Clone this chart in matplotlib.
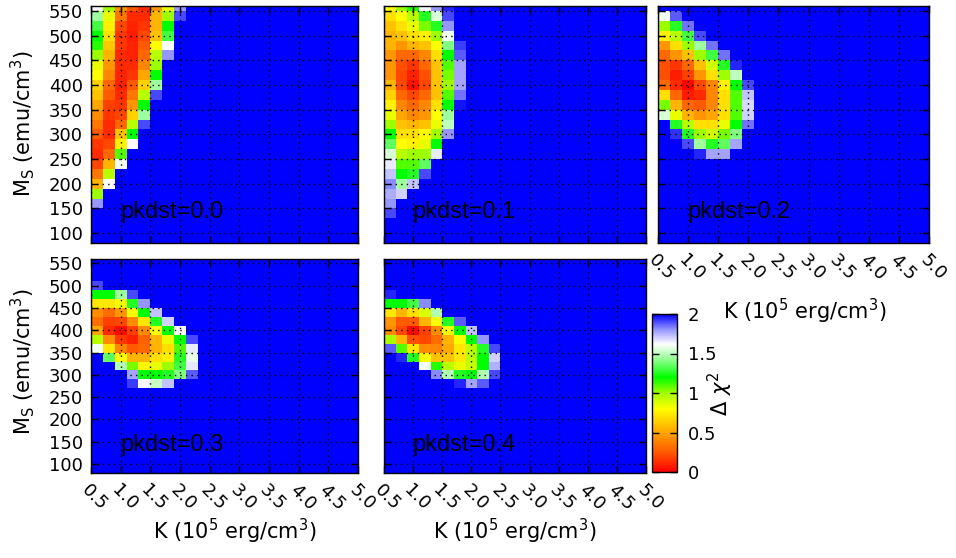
import numpy as np
import matplotlib.pyplot as plt
from matplotlib.colors import LinearSegmentedColormap

# scan grid: anisotropy K (1e5 erg/cm3) and saturation magnetisation Ms (emu/cm3)
k_vals = [0.6, 0.8, 1.0, 1.2, 1.4, 1.6, 1.8, 2.0, 2.2, 2.4, 2.6, 2.8,
          3.0, 3.2, 3.4, 3.6, 3.8, 4.0, 4.2, 4.4, 4.6, 4.8, 5.0]
ms_vals = [560, 540, 520, 500, 480, 460, 440, 420, 400, 380, 360, 340, 320,
           300, 280, 260, 240, 220, 200, 180, 160, 140, 120, 100, 80]
OFF = 3.0   # delta chi2 outside the colour range

# delta chi2, rows from Ms=560 downwards, columns from K=0.6 upwards
chi_p00 = [
    [1.62, 1.0, 0.45, 0.25, 0.12, 0.45, 0.85, 1.8],
    [1.45, 0.85, 0.35, 0.12, 0.12, 0.55, 1.0, 1.9],
    [1.3, 0.75, 0.2, 0.1, 0.15, 0.55, 1.2],
    [1.2, 0.7, 0.15, 0.08, 0.2, 0.6, 1.3],
    [1.15, 0.62, 0.15, 0.1, 0.25, 0.8, 1.62],
    [1.0, 0.55, 0.12, 0.1, 0.3, 0.95, 1.8],
    [0.85, 0.45, 0.12, 0.12, 0.4, 1.0],
    [0.8, 0.4, 0.1, 0.15, 0.5, 1.2],
    [0.65, 0.3, 0.1, 0.25, 0.65, 1.45],
    [0.6, 0.25, 0.12, 0.35, 0.95, 1.9],
    [0.5, 0.18, 0.15, 0.45, 1.2],
    [0.42, 0.15, 0.2, 0.65, 1.45],
    [0.35, 0.12, 0.3, 0.95, 1.9],
    [0.25, 0.12, 0.6, 1.2],
    [0.15, 0.2, 0.75, 1.62],
    [0.12, 0.3, 1.1],
    [0.2, 0.55, 1.6],
    [0.35, 0.95],
    [0.55, 1.62],
    [1.0],
    [1.8],
]
chi_p01 = [
    [0.8, 1.0, 1.15, 1.62, 1.8, 1.95],
    [0.7, 0.8, 0.95, 1.25, 1.55, 1.9],
    [0.6, 0.7, 0.85, 1.05, 1.25, 1.8],
    [0.55, 0.6, 0.7, 0.75, 1.0, 1.6],
    [0.55, 0.45, 0.55, 0.6, 0.8, 1.4, 1.92],
    [0.45, 0.3, 0.3, 0.4, 0.7, 1.2, 1.88],
    [0.45, 0.22, 0.15, 0.3, 0.6, 1.1, 1.78],
    [0.45, 0.2, 0.1, 0.22, 0.6, 1.05, 1.78],
    [0.55, 0.2, 0.05, 0.2, 0.6, 1.0, 1.78],
    [0.65, 0.3, 0.2, 0.3, 0.6, 1.1, 1.85],
    [0.75, 0.4, 0.3, 0.4, 0.7, 1.2, 1.97],
    [0.85, 0.5, 0.4, 0.45, 0.8, 1.45],
    [1.0, 0.6, 0.55, 0.6, 0.85, 1.5],
    [1.2, 0.7, 0.7, 0.8, 1.0, 1.8],
    [1.35, 0.8, 0.75, 0.85, 1.2],
    [1.55, 0.95, 1.0, 1.0, 1.65],
    [1.65, 1.1, 1.1, 1.35],
    [1.72, 1.2, 1.25, 1.9],
    [1.82, 1.45, 1.72],
    [1.76, 1.7],
    [1.8],
    [1.9],
]
chi_p02 = [
    [OFF],
    [1.6, 1.88],
    [1.0, 1.25, 1.85],
    [0.75, 0.95, 1.3, 1.9],
    [0.45, 0.7, 1.0, 1.45, 1.85],
    [0.3, 0.45, 0.6, 1.0, 1.3, 1.85],
    [0.22, 0.15, 0.3, 0.6, 0.9, 1.25, 1.95],
    [0.22, 0.08, 0.18, 0.45, 0.7, 1.0, 1.5],
    [0.3, 0.12, 0.02, 0.2, 0.4, 0.75, 1.2, 1.9],
    [0.7, 0.3, 0.08, 0.12, 0.4, 0.7, 1.1, 1.72],
    [1.05, 0.55, 0.3, 0.25, 0.4, 0.7, 1.1, 1.68],
    [1.55, 0.85, 0.55, 0.45, 0.5, 0.7, 1.1, 1.7],
    [OFF, 1.25, 0.95, 0.7, 0.7, 0.85, 1.2, 1.85],
    [OFF, 1.93, 1.25, 1.0, 0.9, 1.05, 1.4],
    [OFF, OFF, 1.9, 1.45, 1.25, 1.35, 1.78],
    [OFF, OFF, OFF, 1.95, 1.78, 1.78],
]
chi_p03 = [
    [OFF],
    [OFF],
    [OFF],
    [1.9],
    [1.2, 1.2, 1.45, 1.9],
    [0.72, 0.72, 0.82, 1.25, 1.8],
    [0.42, 0.32, 0.45, 0.82, 1.2, 1.72],
    [0.32, 0.18, 0.2, 0.42, 0.72, 1.25, 1.7],
    [0.5, 0.12, 0.03, 0.18, 0.42, 0.8, 1.2, 1.62],
    [0.95, 0.42, 0.15, 0.1, 0.28, 0.55, 0.85, 1.2, 1.9],
    [1.6, 0.72, 0.4, 0.25, 0.3, 0.55, 0.7, 1.1, 1.65],
    [OFF, 1.35, 0.8, 0.55, 0.55, 0.7, 0.75, 1.25, 1.58],
    [OFF, OFF, 1.48, 1.05, 0.78, 0.85, 1.0, 1.3, 1.66],
    [OFF, OFF, OFF, 1.78, 1.2, 1.2, 1.25, 1.4, 1.88],
    [OFF, OFF, OFF, 1.92, 1.62, 1.52, 1.72],
]
chi_p04 = [
    [OFF],
    [OFF],
    [OFF],
    [OFF],
    [1.95],
    [1.2, 1.2, 1.3, 1.82],
    [0.72, 0.55, 0.7, 0.88, 1.48],
    [0.45, 0.25, 0.25, 0.55, 0.82, 1.25, 1.88],
    [0.42, 0.2, 0.03, 0.18, 0.42, 0.82, 1.2, 1.72],
    [0.98, 0.55, 0.22, 0.2, 0.32, 0.55, 0.82, 1.2, 1.8],
    [1.88, 1.1, 0.72, 0.42, 0.4, 0.52, 0.72, 0.95, 1.25, 1.9],
    [OFF, 1.95, 1.25, 0.82, 0.6, 0.6, 0.72, 0.95, 1.2, 1.7],
    [OFF, OFF, OFF, 1.6, 1.15, 0.95, 0.85, 0.92, 1.2, 1.75],
    [OFF, OFF, OFF, OFF, 1.82, 1.48, 1.25, 1.2, 1.48, 1.9],
    [OFF, OFF, OFF, OFF, OFF, OFF, 1.95, 1.78, 1.88],
]
panel_data = [chi_p00, chi_p01, chi_p02, chi_p03, chi_p04]
panel_names = ['pkdst=0.0', 'pkdst=0.1', 'pkdst=0.2', 'pkdst=0.3', 'pkdst=0.4']

x_ticks = [0.5, 1.0, 1.5, 2.0, 2.5, 3.0, 3.5, 4.0, 4.5, 5.0]
y_ticks = [100, 150, 200, 250, 300, 350, 400, 450, 500, 550]
cb_ticks = [0, 0.5, 1, 1.5, 2]
cb_labels = ['0', '0.5', '1', '1.5', '2']

# palette red -> orange -> yellow -> green -> white -> blue over 0..2
pal = [(0.0, '#ff0000'), (0.125, '#ff5a00'), (0.25, '#ffa500'),
       (0.4, '#ffff00'), (0.5, '#a0ff00'), (0.6, '#00ff00'),
       (0.72, '#99ff99'), (0.81, '#ffffff'), (0.9, '#9999ff'),
       (1.0, '#0000ff')]
cmap = LinearSegmentedColormap.from_list('chi', pal)
cmap.set_over('#0000ff')


def full_grid(rows):
    z = np.full((len(ms_vals), len(k_vals)), OFF)
    for i, r in enumerate(rows):
        z[i, :len(r)] = r
    return z


W, H = 956, 558


def rect(x0, y0, x1, y1):
    return [x0 / W, 1 - y1 / H, (x1 - x0) / W, (y1 - y0) / H]


fig = plt.figure(figsize=(W / 100, H / 100), dpi=100)

boxes = [(91, 6, 358, 243), (384, 6, 646, 243), (658, 6, 929, 243),
         (91, 259, 358, 473), (384, 259, 646, 473)]
show_x = [False, False, True, True, True]
show_y = [True, False, False, True, False]

for n in range(5):
    ax = fig.add_axes(rect(*boxes[n]))
    z = full_grid(panel_data[n])
    mesh = ax.pcolormesh(k_vals, ms_vals, z, cmap=cmap, vmin=0, vmax=2,
                         shading='nearest')
    ax.set_xlim(0.5, 5.0)
    ax.set_ylim(80, 560)
    ax.set_xticks(x_ticks)
    ax.set_yticks(y_ticks)
    ax.grid(True, color='black', linestyle=(0, (1, 3)), linewidth=1.0)
    ax.tick_params(direction='in', length=5, width=1, top=True, right=True,
                   labelsize=13, pad=6)
    if show_x[n]:
        ax.set_xticklabels(['%.1f' % t for t in x_ticks], rotation=-45,
                           ha='left', va='top', rotation_mode='anchor')
    else:
        ax.set_xticklabels([])
    if not show_y[n]:
        ax.set_yticklabels([])
    for s in ax.spines.values():
        s.set_linewidth(1.0)
    ax.text(0.11, 0.105, panel_names[n], transform=ax.transAxes,
            fontsize=17, family='Liberation Sans', va='baseline', ha='left')

# axis titles
klabel = r'K (10$^5$ erg/cm$^3$)'
mlabel = r'M$_\mathrm{S}$ (emu/cm$^3$)'
fig.text(805 / W, 1 - 311 / H, klabel, fontsize=15, ha='center', va='center')
fig.text(235 / W, 1 - 531 / H, klabel, fontsize=15, ha='center', va='center')
fig.text(515 / W, 1 - 531 / H, klabel, fontsize=15, ha='center', va='center')
fig.text(23 / W, 1 - 124 / H, mlabel, fontsize=15, ha='center', va='center',
         rotation=90)
fig.text(23 / W, 1 - 362 / H, mlabel, fontsize=15, ha='center', va='center',
         rotation=90)

# colour box
cax = fig.add_axes(rect(652, 314, 677, 472))
cb = fig.colorbar(mesh, cax=cax, ticks=cb_ticks)
cb.ax.set_yticklabels(cb_labels)
cb.ax.tick_params(direction='in', length=5, width=1, left=True, right=True,
                  labelsize=13, pad=8)
cb.outline.set_linewidth(1.0)
fig.text(720 / W, 1 - 394 / H, r'$\Delta\ \chi^2$', fontsize=15, ha='center',
         va='center', rotation=90)

fig.savefig('out.png', dpi=100)
